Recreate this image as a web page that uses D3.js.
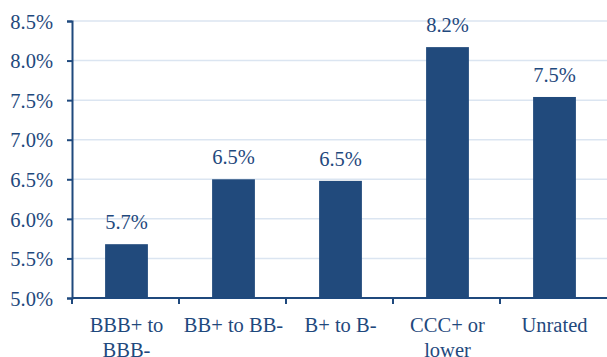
<!DOCTYPE html>
<html><head><meta charset="utf-8">
<script src="https://cdn.jsdelivr.net/npm/d3@7/dist/d3.min.js"></script>
<style>body{margin:0;background:#fff}</style></head>
<body><svg id="c" width="607" height="357"></svg>
<script>
const categories = [["BBB+ to","BBB-"],["BB+ to BB-"],["B+ to B-"],["CCC+ or","lower"],["Unrated"]];
const values = [5.68, 6.5, 6.48, 8.17, 7.54];
const valueLabels = ["5.7%","6.5%","6.5%","8.2%","7.5%"];
const yTicks = [5.0,5.5,6.0,6.5,7.0,7.5,8.0,8.5];

const svg = d3.select("#c");
const m = {l:72, r:0, t:21, b:59};
const W = 607, H = 357;
const x = d3.scaleBand().domain(d3.range(values.length)).range([m.l, W-m.r]).paddingInner(0.6).paddingOuter(0.3);
const y = d3.scaleLinear().domain([5.0, 8.5]).range([H-m.b, m.t]);
const ink = "#1f497d";
const FF = "'Liberation Serif'";
const FS = "20.5px";

// gridlines
svg.append("g").selectAll("line").data(yTicks.slice(1)).join("line")
  .attr("x1", m.l).attr("x2", W).attr("y1", d=>y(d)).attr("y2", d=>y(d))
  .attr("stroke", "#dbe5f1").attr("stroke-width", 1.5);

// bars
svg.append("g").selectAll("rect").data(values).join("rect")
  .attr("x", (d,i)=>x(i)+1).attr("width", x.bandwidth())
  .attr("y", d=>y(d)).attr("height", d=>y(5.0)-y(d))
  .attr("fill", "#214a7c");

// value labels
svg.append("g").selectAll("text").data(values).join("text")
  .attr("x", (d,i)=>x(i)+1+x.bandwidth()/2).attr("y", d=>y(d)-15)
  .attr("text-anchor","middle").style("font-family",FF).style("font-size",FS).attr("fill",ink)
  .text((d,i)=>valueLabels[i]);

// y axis
const ya = svg.append("g").attr("transform",`translate(${m.l},0)`)
  .call(d3.axisLeft(y).tickValues(yTicks).tickFormat(d=>d.toFixed(1)+"%").tickSizeOuter(0).tickSize(5).tickPadding(14));
ya.select(".domain").attr("stroke",ink).attr("stroke-width",2);
ya.selectAll(".tick line").attr("stroke",ink).attr("stroke-width",2);
ya.selectAll("text").style("font-family",FF).style("font-size",FS).attr("fill",ink).attr("dy","0.35em");

// x axis
const xb = d3.scaleLinear().domain([0, values.length]).range([m.l, W-m.r]);
const xa = svg.append("g").attr("transform",`translate(0,${y(5.0)})`);
xa.append("line").attr("x1",m.l).attr("x2",W).attr("stroke",ink).attr("stroke-width",2);
xa.selectAll("line.t").data(d3.range(values.length)).join("line").attr("class","t")
  .attr("x1",d=>xb(d)).attr("x2",d=>xb(d)).attr("y1",0).attr("y2",6).attr("stroke",ink).attr("stroke-width",2);
const lab = xa.selectAll("text").data(categories).join("text")
  .attr("text-anchor","middle").style("font-family",FF).style("font-size",FS).attr("fill",ink)
  .attr("transform",(d,i)=>`translate(${x(i)+1+x.bandwidth()/2},34)`);
lab.selectAll("tspan").data(d=>d).join("tspan").attr("x",0).attr("dy",(d,i)=>i?24.5:0).text(d=>d);
</script></body></html>
